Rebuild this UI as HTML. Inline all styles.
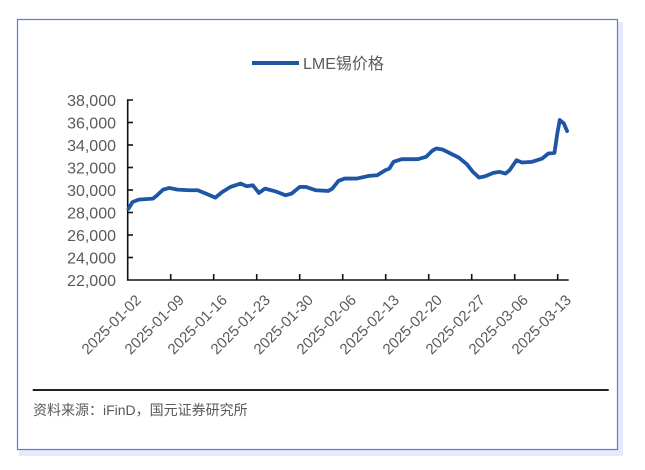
<!DOCTYPE html>
<html><head><meta charset="utf-8"><style>
html,body{margin:0;padding:0;background:#fff;}
svg{display:block;}
text{font-family:"Liberation Sans","Noto Sans CJK SC",sans-serif;fill:#5a5a5a;}
</style></head><body>
<svg width="645" height="470" viewBox="0 0 645 470" xmlns="http://www.w3.org/2000/svg">
<rect x="19" y="22" width="604" height="434" fill="#e6e9fb"/>
<rect x="17.5" y="19.5" width="600" height="430" fill="#fff" stroke="#5b74f0" stroke-width="1.2"/>
<line x1="252" y1="63" x2="299" y2="63" stroke="#1c56a4" stroke-width="4"/>
<text x="303" y="69" font-size="16" fill="#444">LME锡价格</text>
<g font-size="16" text-anchor="end">
<text x="116" y="106">38,000</text>
<text x="116" y="128.5">36,000</text>
<text x="116" y="151">34,000</text>
<text x="116" y="173.5">32,000</text>
<text x="116" y="196">30,000</text>
<text x="116" y="218.5">28,000</text>
<text x="116" y="241">26,000</text>
<text x="116" y="263.5">24,000</text>
<text x="116" y="286">22,000</text>
</g>
<g stroke="#111" stroke-width="1.6" fill="none">
<polyline points="133,100 127.7,100 127.7,280 568.7,280"/>
<line x1="127.7" y1="122.5" x2="133" y2="122.5"/>
<line x1="127.7" y1="145" x2="133" y2="145"/>
<line x1="127.7" y1="167.5" x2="133" y2="167.5"/>
<line x1="127.7" y1="190" x2="133" y2="190"/>
<line x1="127.7" y1="212.5" x2="133" y2="212.5"/>
<line x1="127.7" y1="235" x2="133" y2="235"/>
<line x1="127.7" y1="257.5" x2="133" y2="257.5"/>
<line x1="170.7" y1="274" x2="170.7" y2="280"/>
<line x1="213.7" y1="274" x2="213.7" y2="280"/>
<line x1="256.7" y1="274" x2="256.7" y2="280"/>
<line x1="299.7" y1="274" x2="299.7" y2="280"/>
<line x1="342.7" y1="274" x2="342.7" y2="280"/>
<line x1="385.7" y1="274" x2="385.7" y2="280"/>
<line x1="428.7" y1="274" x2="428.7" y2="280"/>
<line x1="471.7" y1="274" x2="471.7" y2="280"/>
<line x1="514.7" y1="274" x2="514.7" y2="280"/>
<line x1="557.7" y1="274" x2="557.7" y2="280"/>
</g>
<g font-size="15" text-anchor="end">
<text transform="translate(142,301) rotate(-45)">2025-01-02</text>
<text transform="translate(185,301) rotate(-45)">2025-01-09</text>
<text transform="translate(228,301) rotate(-45)">2025-01-16</text>
<text transform="translate(271,301) rotate(-45)">2025-01-23</text>
<text transform="translate(314,301) rotate(-45)">2025-01-30</text>
<text transform="translate(357,301) rotate(-45)">2025-02-06</text>
<text transform="translate(400,301) rotate(-45)">2025-02-13</text>
<text transform="translate(443,301) rotate(-45)">2025-02-20</text>
<text transform="translate(486,301) rotate(-45)">2025-02-27</text>
<text transform="translate(529,301) rotate(-45)">2025-03-06</text>
<text transform="translate(572,301) rotate(-45)">2025-03-13</text>
</g>
<g transform="matrix(0.4076 0 0 0.3344 2.16 -0.33)">
<polyline fill="none" stroke="#1c56a4" stroke-width="3.8" vector-effect="non-scaling-stroke" stroke-linejoin="round" stroke-linecap="round"
points="310,625 320,605 335,598 370,595 380,585 395,568 410,563 430,568 460,570 480,570 500,580 523,592 540,575 560,560 585,550 600,558 615,555 630,578 645,565 670,573 695,585 710,580 730,560 745,560 770,570 800,572 810,565 825,542 840,535 870,535 900,527 920,525 940,510 950,505 960,485 980,477 1020,477 1040,470 1055,452 1065,445 1080,448 1100,460 1120,472 1140,492 1155,515 1170,532 1185,528 1205,518 1220,515 1235,520 1245,510 1262,480 1275,487 1300,485 1325,475 1340,460 1355,458 1362,400 1368,360 1378,370 1386,393"/>
</g>
<line x1="32.7" y1="390" x2="608.7" y2="390" stroke="#222" stroke-width="2"/>
<text x="33" y="415" font-size="14" fill="#555" font-family="'Liberation Sans','Noto Serif CJK SC',serif">资料来源：iFinD，国元证券研究所</text>
</svg>
</body></html>
